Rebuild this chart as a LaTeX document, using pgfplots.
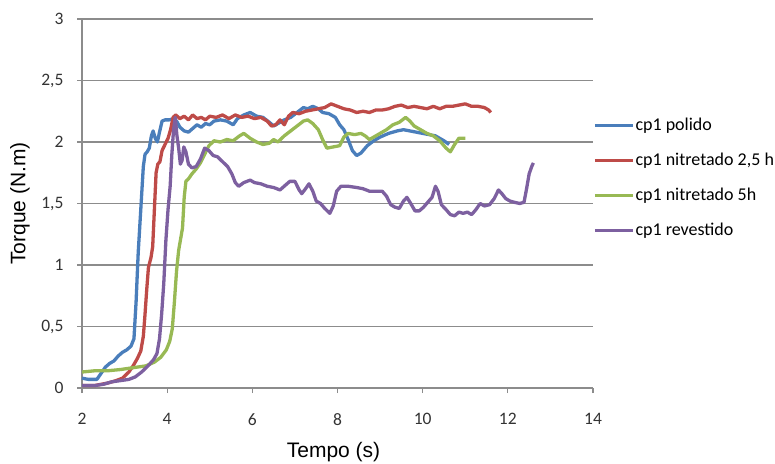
\documentclass[border=0pt]{standalone}
\usepackage{pgfplots}
\pgfplotsset{compat=1.18}
\usepackage{fontspec}
\setmainfont{Carlito}
\newfontfamily\arialf{Liberation Sans}
\definecolor{cblue}{RGB}{74,126,187}
\definecolor{cred}{RGB}{190,75,72}
\definecolor{cgreen}{RGB}{152,185,84}
\definecolor{cpurple}{RGB}{125,96,160}
\definecolor{gridc}{RGB}{140,140,140}
\begin{document}
\begin{tikzpicture}
\useasboundingbox (0pt,0pt) rectangle (775pt,463pt);
\begin{axis}[
  at={(82pt,75pt)}, anchor=south west,
  scale only axis, width=511pt, height=369pt,
  xmin=2, xmax=14, ymin=0, ymax=3,
  xtick={2,4,...,14}, ytick={0,0.5,...,3},
  /pgf/number format/use comma,
  /pgf/number format/assume math mode=true,
  axis x line*=bottom, axis y line*=left,
  axis line style={gridc, line width=1.3pt, -},
  ymajorgrids, grid style={gridc, line width=1.2pt},
  tick style={gridc, line width=1.2pt},
  tick align=outside, major tick length=5pt,
  ticklabel style={font=\fontsize{17.5}{19}\selectfont, text=black!80},
  yticklabel style={xshift=-10pt},
  xticklabel style={yshift=-17pt},
  xlabel={Tempo (s)}, ylabel={Torque (N.m)},
  label style={font=\arialf\fontsize{21}{24}\selectfont, text=black},
  xlabel style={at={(axis description cs:0.5,0)}, anchor=center, yshift=-64pt, xshift=-4pt},
  ylabel style={at={(axis description cs:0,0.5)}, anchor=center, rotate=0, yshift=62pt},
  legend style={at={(1,0.57)}, anchor=west, draw=none, fill=none,
    font=\fontsize{18}{20}\selectfont, inner sep=0pt, row sep=19pt,
    nodes={inner sep=1pt}},
  legend cell align=left,
  legend image code/.code={\draw[#1] (0pt,0pt) -- (38pt,0pt);},
  every axis plot/.append style={line width=3.3pt, line join=round},
  clip=false,
]
\addplot[cblue] coordinates {
(2.00,0.08) (2.15,0.07) (2.35,0.07) (2.45,0.12) (2.55,0.17) (2.65,0.20) (2.75,0.22) (2.85,0.26) (2.95,0.29) (3.05,0.31) (3.15,0.34) (3.22,0.40) (3.27,0.70) (3.32,1.10) (3.38,1.45) (3.44,1.80) (3.48,1.90) (3.53,1.92) (3.58,1.95) (3.63,2.05) (3.67,2.09) (3.72,2.03) (3.77,2.00) (3.82,2.08) (3.88,2.17) (3.95,2.18) (4.05,2.18) (4.15,2.19) (4.22,2.17) (4.30,2.12) (4.40,2.09) (4.50,2.08) (4.60,2.11) (4.70,2.14) (4.80,2.12) (4.90,2.15) (5.00,2.14) (5.10,2.17) (5.25,2.18) (5.40,2.17) (5.55,2.14) (5.65,2.19) (5.80,2.22) (5.95,2.24) (6.10,2.21) (6.25,2.20) (6.40,2.16) (6.50,2.13) (6.60,2.15) (6.75,2.18) (6.90,2.20) (7.05,2.24) (7.20,2.28) (7.30,2.27) (7.42,2.29) (7.55,2.27) (7.65,2.24) (7.80,2.23) (7.95,2.20) (8.05,2.14) (8.15,2.10) (8.25,2.02) (8.35,1.93) (8.45,1.89) (8.55,1.91) (8.70,1.97) (8.85,2.01) (9.00,2.04) (9.20,2.07) (9.40,2.09) (9.55,2.10) (9.70,2.09) (9.85,2.08) (10.00,2.07) (10.15,2.06) (10.30,2.05) (10.40,2.03) (10.50,2.01) (10.62,1.98)
};
\addlegendentry{cp1 polido}
\addplot[cred] coordinates {
(2.00,0.02) (2.30,0.02) (2.60,0.04) (2.80,0.06) (2.95,0.08) (3.10,0.13) (3.20,0.18) (3.30,0.24) (3.38,0.30) (3.44,0.42) (3.48,0.60) (3.52,0.80) (3.56,0.98) (3.62,1.06) (3.66,1.15) (3.70,1.45) (3.74,1.75) (3.78,1.82) (3.83,1.84) (3.88,1.93) (3.95,1.98) (4.02,2.03) (4.08,2.10) (4.14,2.20) (4.20,2.22) (4.30,2.19) (4.40,2.21) (4.50,2.18) (4.60,2.22) (4.70,2.19) (4.80,2.20) (4.90,2.18) (5.00,2.21) (5.15,2.20) (5.30,2.22) (5.45,2.19) (5.60,2.22) (5.75,2.20) (5.90,2.21) (6.05,2.19) (6.20,2.20) (6.35,2.17) (6.45,2.13) (6.55,2.14) (6.65,2.18) (6.75,2.14) (6.85,2.21) (6.95,2.24) (7.10,2.23) (7.25,2.25) (7.40,2.26) (7.55,2.27) (7.70,2.28) (7.85,2.31) (8.00,2.29) (8.15,2.27) (8.30,2.26) (8.45,2.24) (8.60,2.25) (8.75,2.24) (8.90,2.26) (9.05,2.26) (9.20,2.27) (9.35,2.29) (9.50,2.30) (9.65,2.28) (9.80,2.29) (9.95,2.28) (10.10,2.27) (10.25,2.29) (10.40,2.27) (10.55,2.29) (10.70,2.29) (10.85,2.30) (11.00,2.31) (11.15,2.29) (11.30,2.29) (11.45,2.28) (11.55,2.26) (11.60,2.24)
};
\addlegendentry{cp1 nitretado 2,5 h}
\addplot[cgreen] coordinates {
(2.00,0.13) (2.30,0.14) (2.60,0.14) (2.90,0.15) (3.10,0.16) (3.30,0.17) (3.50,0.18) (3.70,0.21) (3.85,0.25) (3.98,0.31) (4.06,0.38) (4.12,0.48) (4.17,0.70) (4.22,0.95) (4.27,1.12) (4.32,1.22) (4.36,1.30) (4.40,1.55) (4.44,1.68) (4.50,1.70) (4.58,1.74) (4.68,1.78) (4.78,1.83) (4.88,1.90) (4.98,1.97) (5.10,2.01) (5.25,2.00) (5.40,2.02) (5.55,2.01) (5.70,2.05) (5.80,2.07) (5.95,2.03) (6.10,2.00) (6.25,1.98) (6.40,1.99) (6.50,2.02) (6.60,2.00) (6.75,2.05) (6.90,2.09) (7.05,2.13) (7.20,2.17) (7.30,2.18) (7.42,2.15) (7.55,2.10) (7.65,2.02) (7.75,1.95) (7.90,1.96) (8.05,1.97) (8.15,2.04) (8.25,2.07) (8.40,2.06) (8.55,2.07) (8.65,2.05) (8.75,2.02) (8.85,2.04) (9.00,2.07) (9.15,2.10) (9.30,2.14) (9.45,2.16) (9.60,2.20) (9.70,2.17) (9.80,2.13) (9.95,2.10) (10.10,2.07) (10.25,2.05) (10.40,2.01) (10.55,1.95) (10.65,1.92) (10.75,1.98) (10.85,2.03) (11.00,2.03)
};
\addlegendentry{cp1 nitretado 5h}
\addplot[cpurple] coordinates {
(2.00,0.02) (2.30,0.02) (2.50,0.03) (2.70,0.05) (2.90,0.06) (3.10,0.07) (3.25,0.09) (3.40,0.13) (3.55,0.18) (3.68,0.23) (3.76,0.28) (3.82,0.40) (3.87,0.60) (3.92,0.85) (3.97,1.20) (4.02,1.45) (4.07,1.64) (4.11,1.90) (4.15,2.10) (4.19,2.20) (4.23,2.05) (4.27,1.95) (4.31,1.82) (4.35,1.85) (4.39,1.96) (4.44,1.92) (4.50,1.82) (4.58,1.79) (4.68,1.80) (4.78,1.86) (4.88,1.95) (4.98,1.93) (5.08,1.89) (5.18,1.88) (5.30,1.84) (5.42,1.80) (5.52,1.74) (5.60,1.67) (5.68,1.64) (5.80,1.67) (5.95,1.69) (6.05,1.67) (6.20,1.66) (6.35,1.64) (6.50,1.63) (6.65,1.61) (6.78,1.65) (6.88,1.68) (7.00,1.68) (7.10,1.61) (7.16,1.58) (7.25,1.62) (7.33,1.66) (7.42,1.60) (7.50,1.52) (7.60,1.50) (7.70,1.46) (7.82,1.42) (7.90,1.48) (7.98,1.60) (8.08,1.64) (8.25,1.64) (8.45,1.63) (8.60,1.62) (8.75,1.60) (8.90,1.60) (9.05,1.60) (9.15,1.56) (9.25,1.49) (9.35,1.47) (9.45,1.46) (9.55,1.52) (9.63,1.55) (9.72,1.50) (9.82,1.44) (9.92,1.44) (10.02,1.47) (10.12,1.51) (10.22,1.55) (10.30,1.64) (10.36,1.60) (10.44,1.49) (10.55,1.45) (10.65,1.41) (10.75,1.40) (10.85,1.43) (10.95,1.42) (11.05,1.43) (11.15,1.41) (11.25,1.45) (11.35,1.50) (11.45,1.48) (11.57,1.49) (11.68,1.54) (11.78,1.61) (11.86,1.58) (11.95,1.54) (12.05,1.52) (12.15,1.51) (12.28,1.50) (12.38,1.51) (12.44,1.62) (12.50,1.74) (12.56,1.80) (12.60,1.83)
};
\addlegendentry{cp1 revestido}
\end{axis}
\end{tikzpicture}
\end{document}
